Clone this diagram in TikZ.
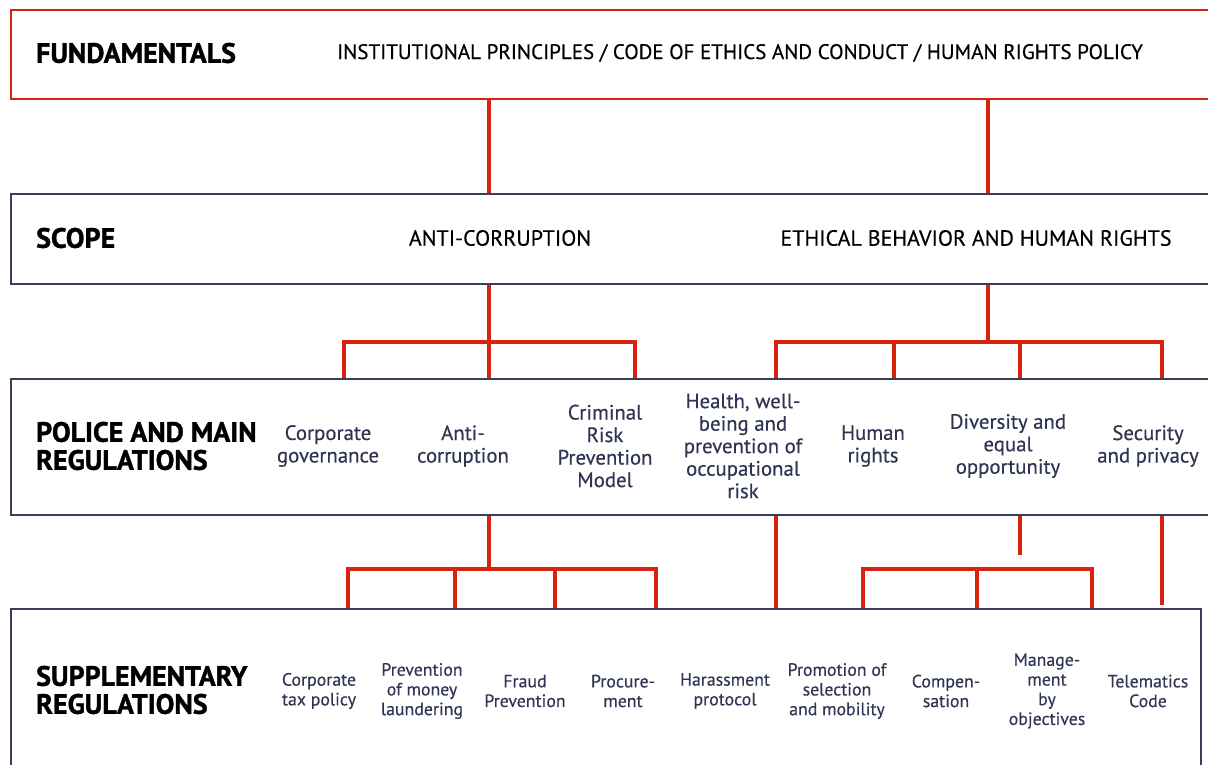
\documentclass[tikz,border=0pt]{standalone}
\usepackage{fontspec}
\setmainfont{PT Sans}[UprightFeatures={FakeBold=0.4}]
\newfontfamily\headfont[BoldFeatures={FakeBold=1.3}]{PT Sans}
\definecolor{linkred}{HTML}{D9230F}
\definecolor{framecol}{HTML}{3B4059}
\definecolor{itemcol}{HTML}{2F3552}
\begin{document}
\begin{tikzpicture}[x=1pt,y=-1pt,
  redframe/.style={draw=linkred, line width=1.5pt, anchor=north west, inner sep=0},
  greyframe/.style={draw=framecol, line width=1.6pt, anchor=north west, inner sep=0},
  link/.style={draw=linkred, line width=3.2pt},
  head/.style={anchor=west, align=left, text=black, inner sep=0, font=\fontsize{28}{28}\selectfont\headfont\bfseries},
  captext/.style={inner sep=0, text=black, font=\fontsize{21}{24}\selectfont},
  scopetext/.style={inner sep=0, text=black, font=\fontsize{22}{24}\selectfont},
  item/.style={align=center, inner sep=0, text=itemcol, font=\fontsize{20.8}{22.5}\selectfont},
  sitem/.style={align=center, inner sep=0, text=itemcol, font=\fontsize{17.8}{19.7}\selectfont}]
\useasboundingbox (0,0) rectangle (1208,764);
% boxes
\node[redframe, minimum width=1210pt, minimum height=89pt] (fund) at (10,9) {};
\node[greyframe, minimum width=1210pt, minimum height=90pt] (scope) at (10,193) {};
\node[greyframe, minimum width=1210pt, minimum height=136pt] (police) at (10,378) {};
\node[greyframe, minimum width=1190pt, minimum height=170pt] (supp) at (10,608) {};
% texts
\node[head] (hf) at (36,53) {FUNDAMENTALS};
\node[captext] (tf) at (740,53) {INSTITUTIONAL PRINCIPLES / CODE OF ETHICS AND CONDUCT / HUMAN RIGHTS POLICY};
\node[head] (hs) at (36,238) {SCOPE};
\node[scopetext] (sa) at (500,238) {ANTI-CORRUPTION};
\node[scopetext] (se) at (976,238) {ETHICAL BEHAVIOR AND HUMAN RIGHTS};
\node[head] (hp) at (36,446) {POLICE AND MAIN\\REGULATIONS};
\node[item] (p1) at (328,446) {Corporate\\governance};
\node[item] (p2) at (463,446) {Anti-\\corruption};
\node[item] (p3) at (605,446) {Criminal\\Risk\\Prevention\\Model};
\node[item] (p4) at (743,446) {Health, well-\\being and\\prevention of\\occupational\\risk};
\node[item] (p5) at (873,446) {Human\\rights};
\node[item] (p6) at (1008,446) {Diversity and\\equal\\opportunity};
\node[item] (p7) at (1148,446) {Security\\and privacy};
\node[head] (hsu) at (36,690) {SUPPLEMENTARY\\REGULATIONS};
\node[sitem] (s1) at (319,691) {Corporate\\tax policy};
\node[sitem] (s2) at (422,691) {Prevention\\of money\\laundering};
\node[sitem] (s3) at (525,691) {Fraud\\Prevention};
\node[sitem] (s4) at (623,691) {Procure-\\ment};
\node[sitem] (s5) at (725,691) {Harassment\\protocol};
\node[sitem] (s6) at (837,691) {Promotion of\\selection\\and mobility};
\node[sitem] (s7) at (946,691) {Compen-\\sation};
\node[sitem] (s8) at (1047,691) {Manage-\\ment\\by\\objectives};
\node[sitem] (s9) at (1148,691) {Telematics\\Code};
% junctions
\coordinate (jA) at (489,342);
\coordinate (jE) at (988,342);
\coordinate (jP) at (489,569);
\coordinate (jQ) at (977,569);
\coordinate (stub) at (1020,555);
\coordinate (secend) at (1162,605);
% connectors
\draw[link] (fund.south -| jA) -- (scope.north -| jA);
\draw[link] (fund.south -| jE) -- (scope.north -| jE);
\draw[link] (scope.south -| jA) -- (police.north -| jA);
\draw[link] (police.north -| 344,0) |- (jA) -| (police.north -| 635,0);
\draw[link] (scope.south -| jE) -- (jE);
\draw[link] (police.north -| 776,0) |- (jE) -| (police.north -| 1162,0);
\draw[link] (894,342) -- (police.north -| 894,0);
\draw[link] (1020,342) -- (police.north -| 1020,0);
\draw[link] (police.south -| jP) -- (jP);
\draw[link] (supp.north -| 348,0) |- (jP) -| (supp.north -| 656,0);
\draw[link] (455,569) -- (supp.north -| 455,0);
\draw[link] (555,569) -- (supp.north -| 555,0);
\draw[link] (police.south -| 776,0) -- (supp.north -| 776,0);
\draw[link] (police.south -| stub) -- (stub);
\draw[link] (supp.north -| 863,0) |- (jQ) -| (supp.north -| 1092,0);
\draw[link] (jQ) -- (supp.north -| jQ);
\draw[link] (police.south -| secend) -- (secend);
\end{tikzpicture}
\end{document}
